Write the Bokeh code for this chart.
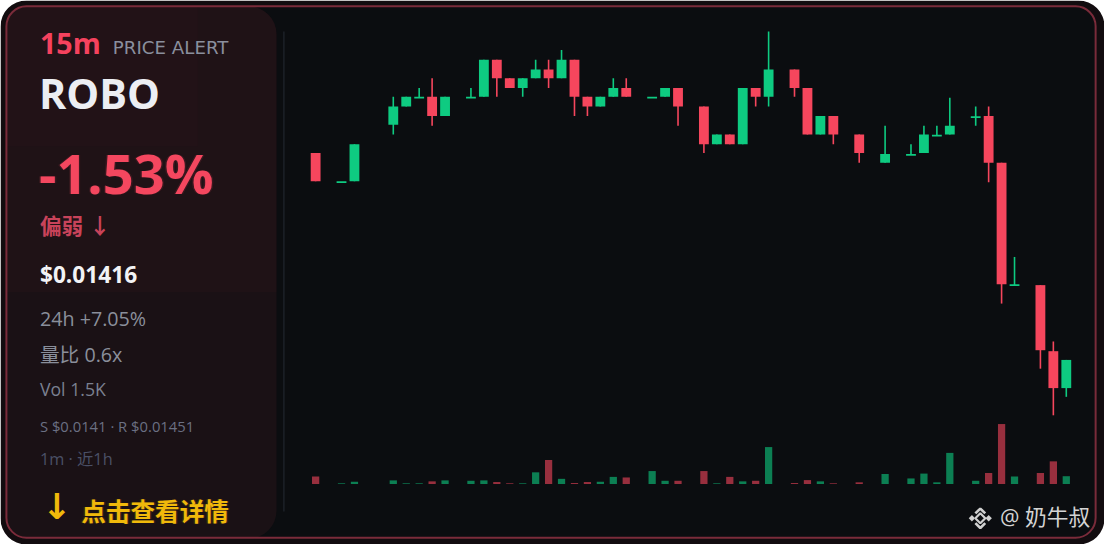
from bokeh.plotting import figure
from bokeh.models import Range1d, ColumnDataSource
from bokeh.core.properties import value
from bokeh.embed import file_html
from bokeh.resources import INLINE

# ---------------- data ----------------
minute = [0, 2, 3, 6, 7, 8, 9, 10, 12, 13, 14, 15, 16, 17, 18, 19, 20, 21, 22, 23, 24,
          26, 27, 28, 30, 31, 32, 33, 34, 35, 37, 38, 39, 40, 42, 44, 46, 47, 48, 49,
          51, 52, 53, 54, 56, 57, 58]
open_ = [0.015225, 0.015075, 0.015080, 0.015370, 0.015465, 0.015510, 0.015515, 0.015415,
         0.015510, 0.015515, 0.015705, 0.015610, 0.015560, 0.015610, 0.015655, 0.015610,
         0.015705, 0.015515, 0.015465, 0.015515, 0.015560, 0.015510, 0.015515, 0.015560,
         0.015465, 0.015270, 0.015320, 0.015270, 0.015560, 0.015515, 0.015655, 0.015560,
         0.015320, 0.015415, 0.015320, 0.015175, 0.015215, 0.015225, 0.015315, 0.015320,
         0.015410, 0.015415, 0.015175, 0.014545, 0.014545, 0.014205, 0.014015]
high = [0.015225, 0.015075, 0.015270, 0.015515, 0.015515, 0.015560, 0.015610, 0.015515,
        0.015560, 0.015705, 0.015705, 0.015610, 0.015610, 0.015705, 0.015705, 0.015755,
        0.015705, 0.015515, 0.015515, 0.015610, 0.015610, 0.015510, 0.015560, 0.015560,
        0.015465, 0.015320, 0.015320, 0.015560, 0.015560, 0.015850, 0.015655, 0.015560,
        0.015415, 0.015415, 0.015320, 0.015365, 0.015270, 0.015365, 0.015365, 0.015510,
        0.015465, 0.015465, 0.015175, 0.014690, 0.014545, 0.014255, 0.014160]
low = [0.015080, 0.015075, 0.015080, 0.015320, 0.015465, 0.015510, 0.015365, 0.015415,
       0.015510, 0.015515, 0.015515, 0.015560, 0.015515, 0.015610, 0.015560, 0.015610,
       0.015415, 0.015415, 0.015465, 0.015515, 0.015515, 0.015510, 0.015515, 0.015365,
       0.015225, 0.015270, 0.015270, 0.015270, 0.015465, 0.015465, 0.015515, 0.015320,
       0.015320, 0.015270, 0.015175, 0.015175, 0.015215, 0.015225, 0.015315, 0.015320,
       0.015365, 0.015075, 0.014450, 0.014545, 0.014115, 0.013875, 0.013970]
close = [0.015080, 0.015075, 0.015270, 0.015465, 0.015515, 0.015510, 0.015415, 0.015515,
         0.015510, 0.015705, 0.015610, 0.015560, 0.015610, 0.015655, 0.015610, 0.015705,
         0.015515, 0.015465, 0.015515, 0.015560, 0.015515, 0.015510, 0.015560, 0.015465,
         0.015270, 0.015320, 0.015270, 0.015560, 0.015515, 0.015655, 0.015560, 0.015320,
         0.015415, 0.015320, 0.015225, 0.015220, 0.015215, 0.015320, 0.015315, 0.015365,
         0.015410, 0.015175, 0.014550, 0.014545, 0.014210, 0.014015, 0.014160]
volume = [77, 7, 23, 37, 7, 7, 27, 37, 33, 37, 20, 7, 7, 120, 247, 53, 10, 20, 23, 73, 67,
          133, 33, 33, 133, 7, 73, 27, 33, 380, 10, 40, 27, 7, 17, 103, 57, 107, 17, 320,
          33, 113, 617, 77, 113, 233, 80]

symbol = "ROBO"
interval = "15m"
change_txt = "-1.53%"
trend_txt = "偏弱 ↓"
price_txt = "$0.01416"
day_txt = "24h +7.05%"
ratio_txt = "量比 0.6x"
vol_txt = "Vol 1.5K"
sr_txt = "S $0.0141 · R $0.01451"
range_txt = "1m · 近1h"
cta_txt = "点击查看详情"
mark_txt = "@ 奶牛叔"

# ---------------- layout / style ----------------
W, H = 1120, 560           # design space
FW, FH = 1104, 544         # figure pixels
X0, DX = 319.7, 13.13      # first slot position / slot spacing (design px)
P_TOP, PX = 0.01601, 0.000005   # price at design y=0, price per design px
V_BASE, VPX = 497.7, 10.0       # volume baseline y, volume per design px
FS = FW / W

GREEN, RED = "#0ecb81", "#f6465d"
BG = "#0b0d10"
MIX = "Open Sans, Noto Sans CJK SC"

p = figure(width=FW, height=FH, x_range=Range1d(0, W), y_range=Range1d(H, 0),
           toolbar_location=None, output_backend="svg", min_border=0,
           x_axis_type=None, y_axis_type=None)
p.grid.visible = False
p.outline_line_color = None
p.background_fill_color = "white"
p.border_fill_color = "white"

p.extra_x_ranges = {"idx": Range1d(-X0 / DX, (W - X0) / DX)}
p.extra_y_ranges = {"price": Range1d(P_TOP - H * PX, P_TOP),
                    "vol": Range1d((V_BASE - H) * VPX, V_BASE * VPX)}

# card
p.quad(left=[0], right=[W], top=[0], bottom=[H], fill_color="#120c0f",
       line_color=None, border_radius=26)
p.quad(left=[6], right=[1112], top=[6], bottom=[554], fill_color=BG,
       line_color=None, border_radius=20)
# left panel
p.quad(left=[6], right=[280], top=[6], bottom=[554], fill_color="#1a1115",
       line_color=None, border_radius=(20, 28, 28, 20))
p.quad(left=[6], right=[280], top=[6], bottom=[300], fill_color="#2c141b",
       fill_alpha=0.35, line_color=None, border_radius=(20, 28, 0, 0))
p.quad(left=[6], right=[200], top=[6], bottom=[150], fill_color="#2c141b",
       fill_alpha=0.3, line_color=None, border_radius=(20, 0, 0, 0))
# divider
p.segment(x0=[287.5], y0=[32], x1=[287.5], y1=[526], line_color="#1d2128", line_width=1.5)

# ---------------- candles ----------------
colors = [GREEN if c >= o else RED for o, c in zip(open_, close)]
MINB = 1.8 * PX
tops, bots = [], []
for o, c in zip(open_, close):
    t, b = max(o, c), min(o, c)
    if t - b < MINB:
        m = (t + b) / 2
        t, b = m + MINB / 2, m - MINB / 2
    tops.append(t)
    bots.append(b)

src = ColumnDataSource(dict(x=minute, o=open_, h=high, l=low, c=close,
                            top=tops, bot=bots, color=colors, vol=volume,
                            zero=[0] * len(minute)))
p.segment(x0="x", y0="h", x1="x", y1="l", source=src, line_color="color",
          line_width=1.6, x_range_name="idx", y_range_name="price")
p.vbar(x="x", width=0.76, top="top", bottom="bot", source=src, fill_color="color",
       line_color=None, x_range_name="idx", y_range_name="price")
p.vbar(x="x", width=0.56, top="vol", bottom="zero", source=src, fill_color="color",
       fill_alpha=0.6, line_color=None, x_range_name="idx", y_range_name="vol")

# border line
p.quad(left=[6], right=[1111], top=[6], bottom=[553], fill_color=None,
       line_color="#7a2b3a", line_width=2, border_radius=20)


def txt(x, y, s, size, color, font="Open Sans", style="normal", shift=0.4, alpha=1.0):
    # y is the visual baseline in design space; the renderer sits text ~0.4em lower
    p.text(x=[x], y=[y - shift * size], text=[s], text_font=value(font),
           text_font_style=style, text_font_size=f"{size * FS:.1f}px",
           text_color=color, text_alpha=alpha, text_baseline="alphabetic",
           text_align="left")


# soft glows
for d in (-1.5, 1.5):
    txt(39 + d, 200, change_txt, 55, "#f4475f", style="bold", alpha=0.12)
    txt(82 + d, 534, cta_txt, 25, "#f0b90b", font="Noto Sans CJK SC", style="bold", alpha=0.12)

txt(40, 55, interval, 29, "#f5425e", style="bold")
txt(114, 56, "PRICE ALERT", 18.5, "#8a8f9e", font="DejaVu Sans")
txt(39, 112, symbol, 42, "#eceef3", style="bold")
txt(39, 200, change_txt, 55, "#f4475f", style="bold")
txt(40, 240, trend_txt, 22, "#c8435a", font=MIX, style="bold")
txt(40, 291, price_txt, 23, "#f2f3f5", style="bold")
txt(40, 335, day_txt, 20, "#8a8f9b")
txt(40, 372, ratio_txt, 20, "#8a8f9b", font=MIX)
txt(40, 407, vol_txt, 18, "#7b8090")
txt(40, 444, sr_txt, 15, "#6b7083")
txt(40, 479, range_txt, 16.5, "#4a5066", font=MIX)
txt(42, 535, "↓", 36, "#f0b90b", font="DejaVu Sans", style="bold")
txt(82, 534, cta_txt, 25, "#f0b90b", font="Noto Sans CJK SC", style="bold")

# watermark
cx, cy = 994, 533
p.scatter(x=[cx], y=[cy], marker="square", size=7, angle=0.785, fill_color=None,
          line_color="#d0d0d0", line_width=2.2)
p.scatter(x=[cx - 8.5, cx + 8.5], y=[cy, cy], marker="square", size=4.5, angle=0.785,
          fill_color="#d0d0d0", line_color=None)
p.multi_line(xs=[[cx - 5, cx, cx + 5], [cx - 5, cx, cx + 5]],
             ys=[[cy - 5, cy - 10, cy - 5], [cy + 5, cy + 10, cy + 5]],
             line_color="#d0d0d0", line_width=2.6)
txt(1014, 540, mark_txt, 22, "#d4d4d4", font=MIX)

open("out.html", "w").write(file_html(p, INLINE))
